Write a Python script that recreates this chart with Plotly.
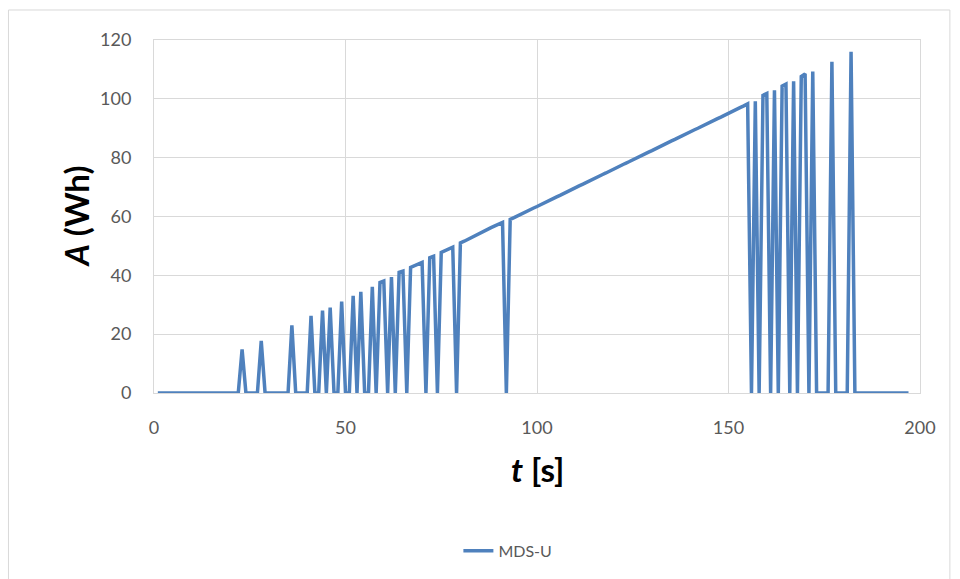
import plotly.graph_objects as go

# time [s]
t = list(range(1, 198))

# A (Wh), one value per second (t = 1 .. 197)
a_0_22 = [0.0] * 22
a_23_40 = [14.8, 0.0, 0.0, 0.0, 0.0, 17.7, 0.0, 0.0, 0.0, 0.0, 0.0, 0.0, 0.0,
           23.0, 0.0, 0.0, 0.0, 0.0]
a_41_66 = [26.2, 0.0, 0.0, 28.0, 0.0, 29.0, 0.0, 0.0, 31.1, 0.0, 0.0, 33.0, 0.0,
           34.4, 0.0, 0.0, 36.1, 0.0, 37.6, 38.1, 0.0, 39.4, 0.0, 41.0, 41.4, 0.0]
a_67_92 = [42.7, 43.3, 43.9, 44.4, 0.0, 46.0, 46.5, 0.0, 47.8, 48.4, 49.0, 49.6,
           0.0, 51.0, 51.6, 52.3, 53.0, 53.6, 54.4, 55.0, 55.6, 56.2, 56.8, 57.4,
           58.0, 0.0]
a_93_155 = [59.0, 59.6, 60.3, 60.9, 61.5, 62.2, 62.8, 63.4, 64.1, 64.7, 65.3,
            66.0, 66.6, 67.2, 67.9, 68.5, 69.1, 69.8, 70.4, 71.0, 71.7, 72.3,
            72.9, 73.6, 74.2, 74.8, 75.5, 76.1, 76.7, 77.4, 78.0, 78.6, 79.3,
            79.9, 80.5, 81.2, 81.8, 82.4, 83.1, 83.7, 84.3, 85.0, 85.6, 86.2,
            86.9, 87.5, 88.1, 88.8, 89.4, 90.0, 90.7, 91.3, 91.9, 92.6, 93.2,
            93.8, 94.5, 95.1, 95.7, 96.4, 97.0, 97.6, 98.3]
a_156_197 = [0.0, 99.2, 0.0, 101.2, 101.8, 0.0, 102.9, 0.0, 104.3, 105.0, 0.0,
             106.0, 0.0, 107.6, 108.5, 0.0, 109.3, 0.0, 0.0, 0.0, 0.0, 112.6,
             0.0, 0.0, 0.0, 0.0, 116.0] + [0.0] * 15

A = a_0_22 + a_23_40 + a_41_66 + a_67_92 + a_93_155 + a_156_197

x_ticks = [0, 50, 100, 150, 200]
y_ticks = [0, 20, 40, 60, 80, 100, 120]

series_name = "MDS-U"
line_color = "#4f81bd"
grid_color = "#d9d9d9"
tick_color = "#595959"
font_family = "Lato, 'Open Sans', sans-serif"

fig = go.Figure()
fig.add_trace(go.Scatter(
    x=t, y=A, mode="lines", name=series_name,
    line=dict(color=line_color, width=3.5),
))

fig.update_layout(
    width=960, height=579,
    margin=dict(l=154, r=40, t=40, b=185),
    paper_bgcolor="white", plot_bgcolor="white",
    font=dict(family=font_family, color=tick_color, size=16),
    showlegend=True,
    legend=dict(orientation="h", x=0.462, xanchor="center", y=-0.443,
                yanchor="middle", font=dict(size=16, color=tick_color)),
    xaxis=dict(range=[0, 200], tickvals=x_ticks, showgrid=True,
               gridcolor=grid_color, gridwidth=1, zeroline=False,
               showline=True, linecolor=grid_color, mirror=True,
               ticks="", ticklabelstandoff=18,
               tickfont=dict(size=18, color=tick_color)),
    yaxis=dict(range=[0, 120], tickvals=y_ticks, showgrid=True,
               gridcolor=grid_color, gridwidth=1, zeroline=False,
               showline=True, linecolor=grid_color, mirror=True,
               ticks="", ticklabelstandoff=18,
               tickfont=dict(size=18, color=tick_color)),
    annotations=[
        dict(text="<b><i>A</i> (Wh)</b>", xref="paper", yref="paper",
             x=-0.103, y=0.5, xanchor="center", yanchor="middle",
             textangle=-90, showarrow=False,
             font=dict(size=33, color="black", family=font_family)),
        dict(text="<b><i>t</i> [s]</b>", xref="paper", yref="paper",
             x=0.5, y=-0.215, xanchor="center", yanchor="middle",
             showarrow=False,
             font=dict(size=33, color="black", family=font_family)),
    ],
    shapes=[
        dict(type="rect", xref="paper", yref="paper",
             x0=-0.19, x1=1.039, y0=-0.55, y1=1.085,
             line=dict(color=grid_color, width=1), fillcolor="rgba(0,0,0,0)",
             layer="below"),
    ],
)

fig.write_html("out.html")
